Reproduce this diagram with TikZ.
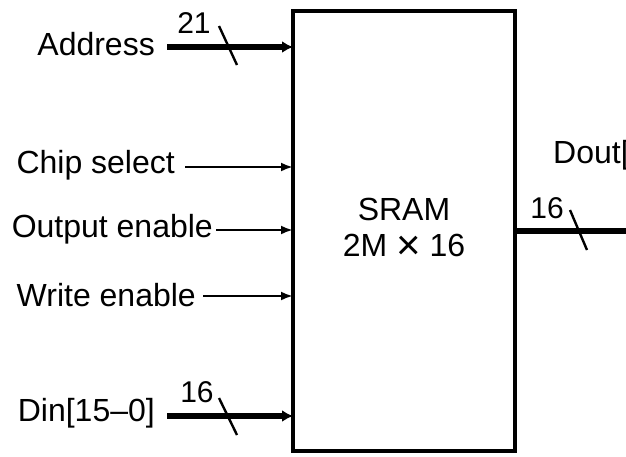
\documentclass[tikz,border=0pt]{standalone}
\usepackage{fontspec}
\setmainfont{Liberation Sans}
\usetikzlibrary{arrows.meta}
\newcommand{\bigtimes}{\raisebox{-3pt}{\fontsize{42}{36}\selectfont ×}}
\begin{document}
\begin{tikzpicture}[x=1pt,y=-1pt,
  lbl/.style={inner sep=0pt,font=\fontsize{32}{36}\selectfont},
  num/.style={inner sep=0pt,font=\fontsize{30}{34}\selectfont},
  bus/.style={line width=6.5pt,-{Latex[length=11pt,width=12pt]}},
  busout/.style={line width=6.5pt},
  sig/.style={line width=2.4pt,-{Latex[length=12pt,width=9pt]}},
  slash/.style={line width=2.4pt}]
\useasboundingbox (0,0) rectangle (626,456);
\clip (0,0) rectangle (626,456);
\node[draw,line width=3.5pt,minimum width=222pt,minimum height=440pt,inner sep=0pt] (sram) at (404,231) {};
\node[lbl,align=center] (t) at (404,229) {SRAM\\2M \bigtimes{} 16};
% inputs
\node[lbl,anchor=east] (addr) at (155,44) {Address};
\coordinate (addrin) at (293,47);
\coordinate (addrst) at (167,47);
\draw[bus] (addrst) -- (addrin);
\node[num] (n21) at (194,23) {21};
\coordinate (s1a) at (219,26); \coordinate (s1b) at (237,65);
\draw[slash] (s1a) -- (s1b);

\node[lbl,anchor=east] (cs) at (175,165) {Chip select};
\coordinate (csst) at (185,167); \coordinate (csin) at (293,167);
\draw[sig] (csst) -- (csin);

\node[lbl,anchor=east] (oe) at (213,229) {Output enable};
\coordinate (oest) at (216,230); \coordinate (oein) at (293,230);
\draw[sig] (oest) -- (oein);

\node[lbl,anchor=east] (we) at (196,295) {Write enable};
\coordinate (west) at (203,296); \coordinate (wein) at (293,296);
\draw[sig] (west) -- (wein);

\node[lbl,anchor=east] (din) at (155,413) {Din[15--0]};
\coordinate (dinst) at (167,416); \coordinate (dinin) at (293,416);
\draw[bus] (dinst) -- (dinin);
\node[num] (n16a) at (197,392) {16};
\coordinate (s2a) at (219,398); \coordinate (s2b) at (237,435);
\draw[slash] (s2a) -- (s2b);

% output
\coordinate (dout) at (517,231); \coordinate (doutend) at (640,231);
\draw[busout] (dout) -- (doutend);
\node[num] (n16b) at (547,208) {16};
\coordinate (s3a) at (570,210); \coordinate (s3b) at (587,250);
\draw[slash] (s3a) -- (s3b);
\node[lbl,anchor=west] (dlab) at (553,155) {Dout[15--0]};
\end{tikzpicture}
\end{document}
